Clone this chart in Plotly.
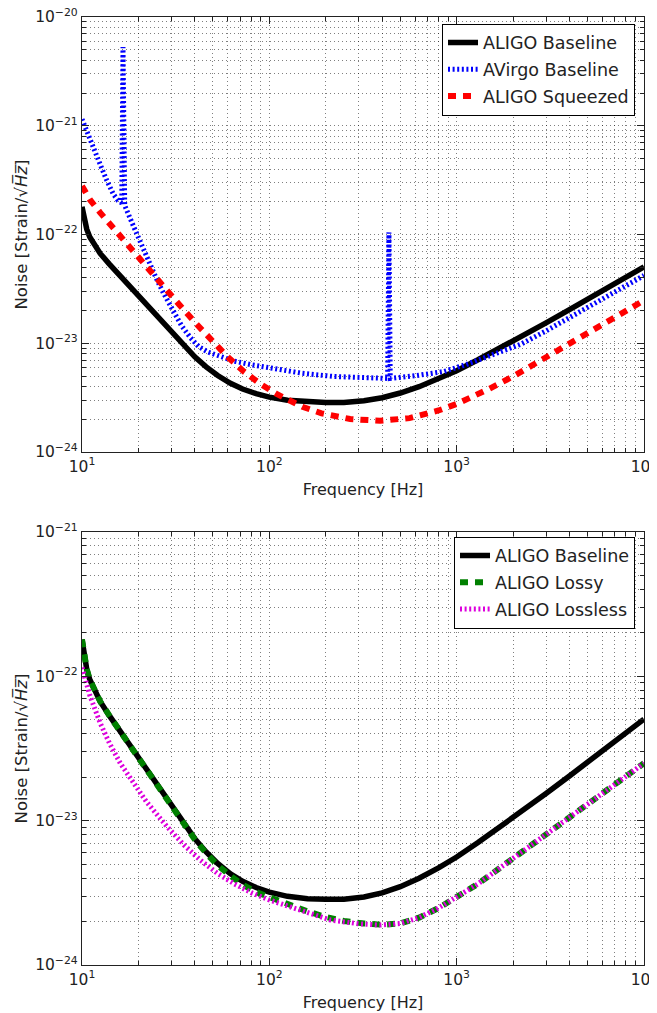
import plotly.graph_objects as go

# ---------------- data ----------------
f_base = [10, 10.3, 10.6, 11, 11.7, 12.5, 14, 16, 18, 20, 23, 26, 30, 35, 40, 46, 53, 62, 72, 85,
          100, 125, 160, 200, 250, 320, 400, 500, 630, 800, 1000, 1300, 1700, 2200, 3000, 4000,
          5500, 7500, 10000]
aligo_base = [1.8e-22, 1.32e-22, 1.12e-22, 9.5e-23, 7.95e-23, 6.7e-23, 5.34e-23, 4.14e-23, 3.33e-23,
              2.74e-23, 2.10e-23, 1.65e-23, 1.25e-23, 9.4e-24, 7.5e-24, 6.07e-24, 5.05e-24, 4.28e-24,
              3.8e-24, 3.44e-24, 3.2e-24, 2.99e-24, 2.88e-24, 2.85e-24, 2.85e-24, 2.96e-24,
              3.16e-24, 3.49e-24, 3.99e-24, 4.71e-24, 5.6e-24, 7.05e-24, 9.0e-24, 1.14e-23,
              1.54e-23, 2.04e-23, 2.8e-23, 3.8e-23, 5.05e-23]

f_virgo = [10, 11, 12.2, 13.5, 14.7, 15.6, 16.3, 16.55, 16.9, 18.8, 20.4, 22.2, 25, 27.2, 30, 34,
           38, 42, 47, 55, 65, 80, 100, 150, 220, 330, 428, 435, 442, 612, 855, 1130, 1700, 2200,
           3000, 4000, 5500, 7500, 10000]
avirgo_base = [1.15e-21, 7.4e-22, 4.9e-22, 3.2e-22, 2.35e-22, 2.05e-22, 1.95e-22, 5.3e-21,
               1.85e-22, 1.2e-22, 8.6e-23, 6.1e-23, 3.9e-23, 2.9e-23, 2.1e-23, 1.45e-23,
               1.12e-23, 9.3e-24, 8.3e-24, 7.5e-24, 6.85e-24, 6.35e-24, 5.95e-24, 5.3e-24,
               4.95e-24, 4.8e-24, 4.75e-24, 1.05e-22, 4.75e-24, 5.05e-24, 5.5e-24, 6.4e-24,
               8.2e-24, 9.8e-24, 1.3e-23, 1.72e-23, 2.35e-23, 3.15e-23, 4.2e-23]

f_sq = [10, 10.5, 11, 12.5, 14, 16, 18, 20, 23, 27, 33, 40, 48, 60, 73, 90, 110, 150, 190, 270,
        390, 560, 800, 1000, 1500, 2000, 3000, 4000, 5500, 7500, 10000]
aligo_sq = [2.8e-22, 2.42e-22, 2.10e-22, 1.59e-22, 1.26e-22, 9.65e-23, 7.62e-23, 6.17e-23, 4.67e-23,
            3.39e-23, 2.27e-23, 1.56e-23, 1.10e-23, 7.47e-24, 5.51e-24, 4.2e-24, 3.4e-24, 2.61e-24,
            2.27e-24, 2.01e-24, 1.94e-24, 2.05e-24, 2.41e-24, 2.77e-24, 3.83e-24, 4.96e-24,
            7.44e-24, 9.92e-24, 1.364e-23, 1.86e-23, 2.48e-23]

f_lossy = [10, 10.3, 10.6, 11, 11.7, 12.5, 14, 16, 18, 20, 23, 26, 30, 35, 40, 46, 53, 62, 72,
           85, 100, 125, 160, 200, 250, 320, 400, 500, 630, 800, 1000, 1300, 1700, 2200, 3000,
           4000, 5500, 7500, 10000]
aligo_lossy = [1.8e-22, 1.32e-22, 1.12e-22, 9.5e-23, 7.95e-23, 6.7e-23, 5.34e-23, 4.14e-23, 3.33e-23,
               2.74e-23, 2.10e-23, 1.65e-23, 1.25e-23, 9.35e-24, 7.4e-24, 5.95e-24, 4.9e-24, 4.15e-24,
               3.6e-24, 3.2e-24, 2.95e-24, 2.65e-24, 2.35e-24, 2.15e-24, 2.02e-24, 1.94e-24,
               1.9e-24, 1.94e-24, 2.13e-24, 2.48e-24, 2.95e-24, 3.65e-24, 4.7e-24, 6.0e-24,
               8.1e-24, 1.07e-23, 1.43e-23, 1.91e-23, 2.5e-23]

f_lossless = [10, 11, 12.5, 14, 16, 18.8, 22, 28.4, 35, 42.8, 53, 64.5, 80, 100, 150, 212, 300,
              390, 500, 630, 800, 1000, 1300, 1700, 2200, 3000, 4000, 5500, 7500, 10000]
aligo_lossless = [1.15e-22, 7.4e-23, 4.75e-23, 3.45e-23, 2.5e-23, 1.81e-23, 1.36e-23, 9.1e-24,
                  6.79e-24, 5.33e-24, 4.3e-24, 3.67e-24, 3.17e-24, 2.82e-24, 2.35e-24, 2.05e-24,
                  1.93e-24, 1.89e-24, 1.94e-24, 2.13e-24, 2.48e-24, 2.95e-24, 3.65e-24, 4.7e-24,
                  6.0e-24, 8.1e-24, 1.07e-23, 1.43e-23, 1.91e-23, 2.5e-23]

x_tickvals = [10, 100, 1000, 10000]
x_ticktext = ["10<sup>1</sup>", "10<sup>2</sup>", "10<sup>3</sup>", "10<sup>4</sup>"]
y1_tickvals = [1e-24, 1e-23, 1e-22, 1e-21, 1e-20]
y1_ticktext = ["10<sup>−24</sup>", "10<sup>−23</sup>", "10<sup>−22</sup>", "10<sup>−21</sup>", "10<sup>−20</sup>"]
y2_tickvals = [1e-24, 1e-23, 1e-22, 1e-21]
y2_ticktext = ["10<sup>−24</sup>", "10<sup>−23</sup>", "10<sup>−22</sup>", "10<sup>−21</sup>"]

x_minor = [d * 10 ** e for e in range(1, 4) for d in range(2, 10)]
y_minor = [d * 10.0 ** e for e in range(-24, -20) for d in range(2, 10)]

# ---------------- figure ----------------
FONT = "DejaVu Sans, Arial, sans-serif"
TXT = "#222"
fig = go.Figure()

def add(x, y, name, line, xa, ya, leg, grp):
    fig.add_trace(go.Scatter(x=x, y=y, mode="lines", name=name, line=line, xaxis=xa, yaxis=ya,
                             legend=leg, legendgroup=grp))

add(f_base, aligo_base, "ALIGO Baseline", dict(color="black", width=5.5), "x", "y", "legend", "a")
add(f_virgo, avirgo_base, "AVirgo Baseline", dict(color="#0000ff", width=5, dash="2px,2.6px"),
    "x", "y", "legend", "b")
add(f_sq, aligo_sq, "ALIGO Squeezed", dict(color="#ff0000", width=6, dash="8px,7px"),
    "x", "y", "legend", "c")

add(f_base, aligo_base, "ALIGO Baseline", dict(color="black", width=5.5), "x2", "y2", "legend2", "d")
add(f_lossy, aligo_lossy, "ALIGO Lossy", dict(color="#008000", width=6, dash="8px,7px"),
    "x2", "y2", "legend2", "e")
add(f_lossless, aligo_lossless, "ALIGO Lossless", dict(color="#dd00dd", width=5, dash="2px,2.6px"),
    "x2", "y2", "legend2", "f")

GRIDC = "rgba(0,0,0,0.5)"
GDASH = "1px,3px"

def minor(vals):
    return dict(tickmode="array", tickvals=vals, ticks="inside", ticklen=3.5, tickcolor=TXT,
                showgrid=True, gridcolor=GRIDC, gridwidth=1, griddash=GDASH)

def xax(anchor):
    return dict(type="log", range=[1, 4], anchor=anchor, domain=[0, 1], automargin=False,
                tickmode="array", tickvals=x_tickvals, ticktext=x_ticktext,
                ticklabeloverflow="allow",
                ticks="inside", ticklen=7, tickcolor=TXT, showline=True, linecolor=TXT,
                linewidth=1.3, mirror="ticks", zeroline=False, minor=minor(x_minor),
                showgrid=True, gridcolor=GRIDC, gridwidth=1, griddash=GDASH,
                tickfont=dict(family=FONT, size=15.5, color=TXT),
                title=dict(text="Frequency [Hz]", font=dict(family=FONT, size=16, color=TXT),
                           standoff=9))

def yax(anchor, domain, rng, tv, tt):
    return dict(type="log", range=rng, anchor=anchor, domain=domain, automargin=False,
                tickmode="array", tickvals=tv, ticktext=tt,
                ticklabeloverflow="allow",
                ticks="inside", ticklen=7, tickcolor=TXT, showline=True, linecolor=TXT,
                linewidth=1.3, mirror="ticks", zeroline=False, minor=minor(y_minor),
                showgrid=True, gridcolor=GRIDC, gridwidth=1, griddash=GDASH,
                tickfont=dict(family=FONT, size=15.5, color=TXT),
                title=dict(text="Noise [Strain/√<i>H̅z̅</i>]", font=dict(family=FONT, size=16.5, color=TXT),
                           standoff=3))

legend_style = dict(xanchor="right", yanchor="top", bgcolor="white", bordercolor="black",
                    borderwidth=1, tracegroupgap=1, itemwidth=30,
                    font=dict(family=FONT, size=17.5, color=TXT))

# page body has an 8px default margin: the figure is offset by 8px so that the plot areas land
# at x 82-644, y 17-452 (top) and 532-965 (bottom) in the window
fig.update_layout(
    width=657, height=1005, autosize=False,
    margin=dict(l=74, r=21, t=9, b=48),
    paper_bgcolor="white", plot_bgcolor="white",
    font=dict(family=FONT, color=TXT),
    xaxis=xax("y"),
    yaxis=yax("x", [0.5411, 1.0], [-24, -20], y1_tickvals, y1_ticktext),
    xaxis2=xax("y2"),
    yaxis2=yax("x2", [0.0, 0.4568], [-24, -21], y2_tickvals, y2_ticktext),
    legend=dict(x=0.984, y=0.993, **legend_style),
    legend2=dict(x=0.984, y=0.452, **legend_style),
)

fig.write_html("out.html")
